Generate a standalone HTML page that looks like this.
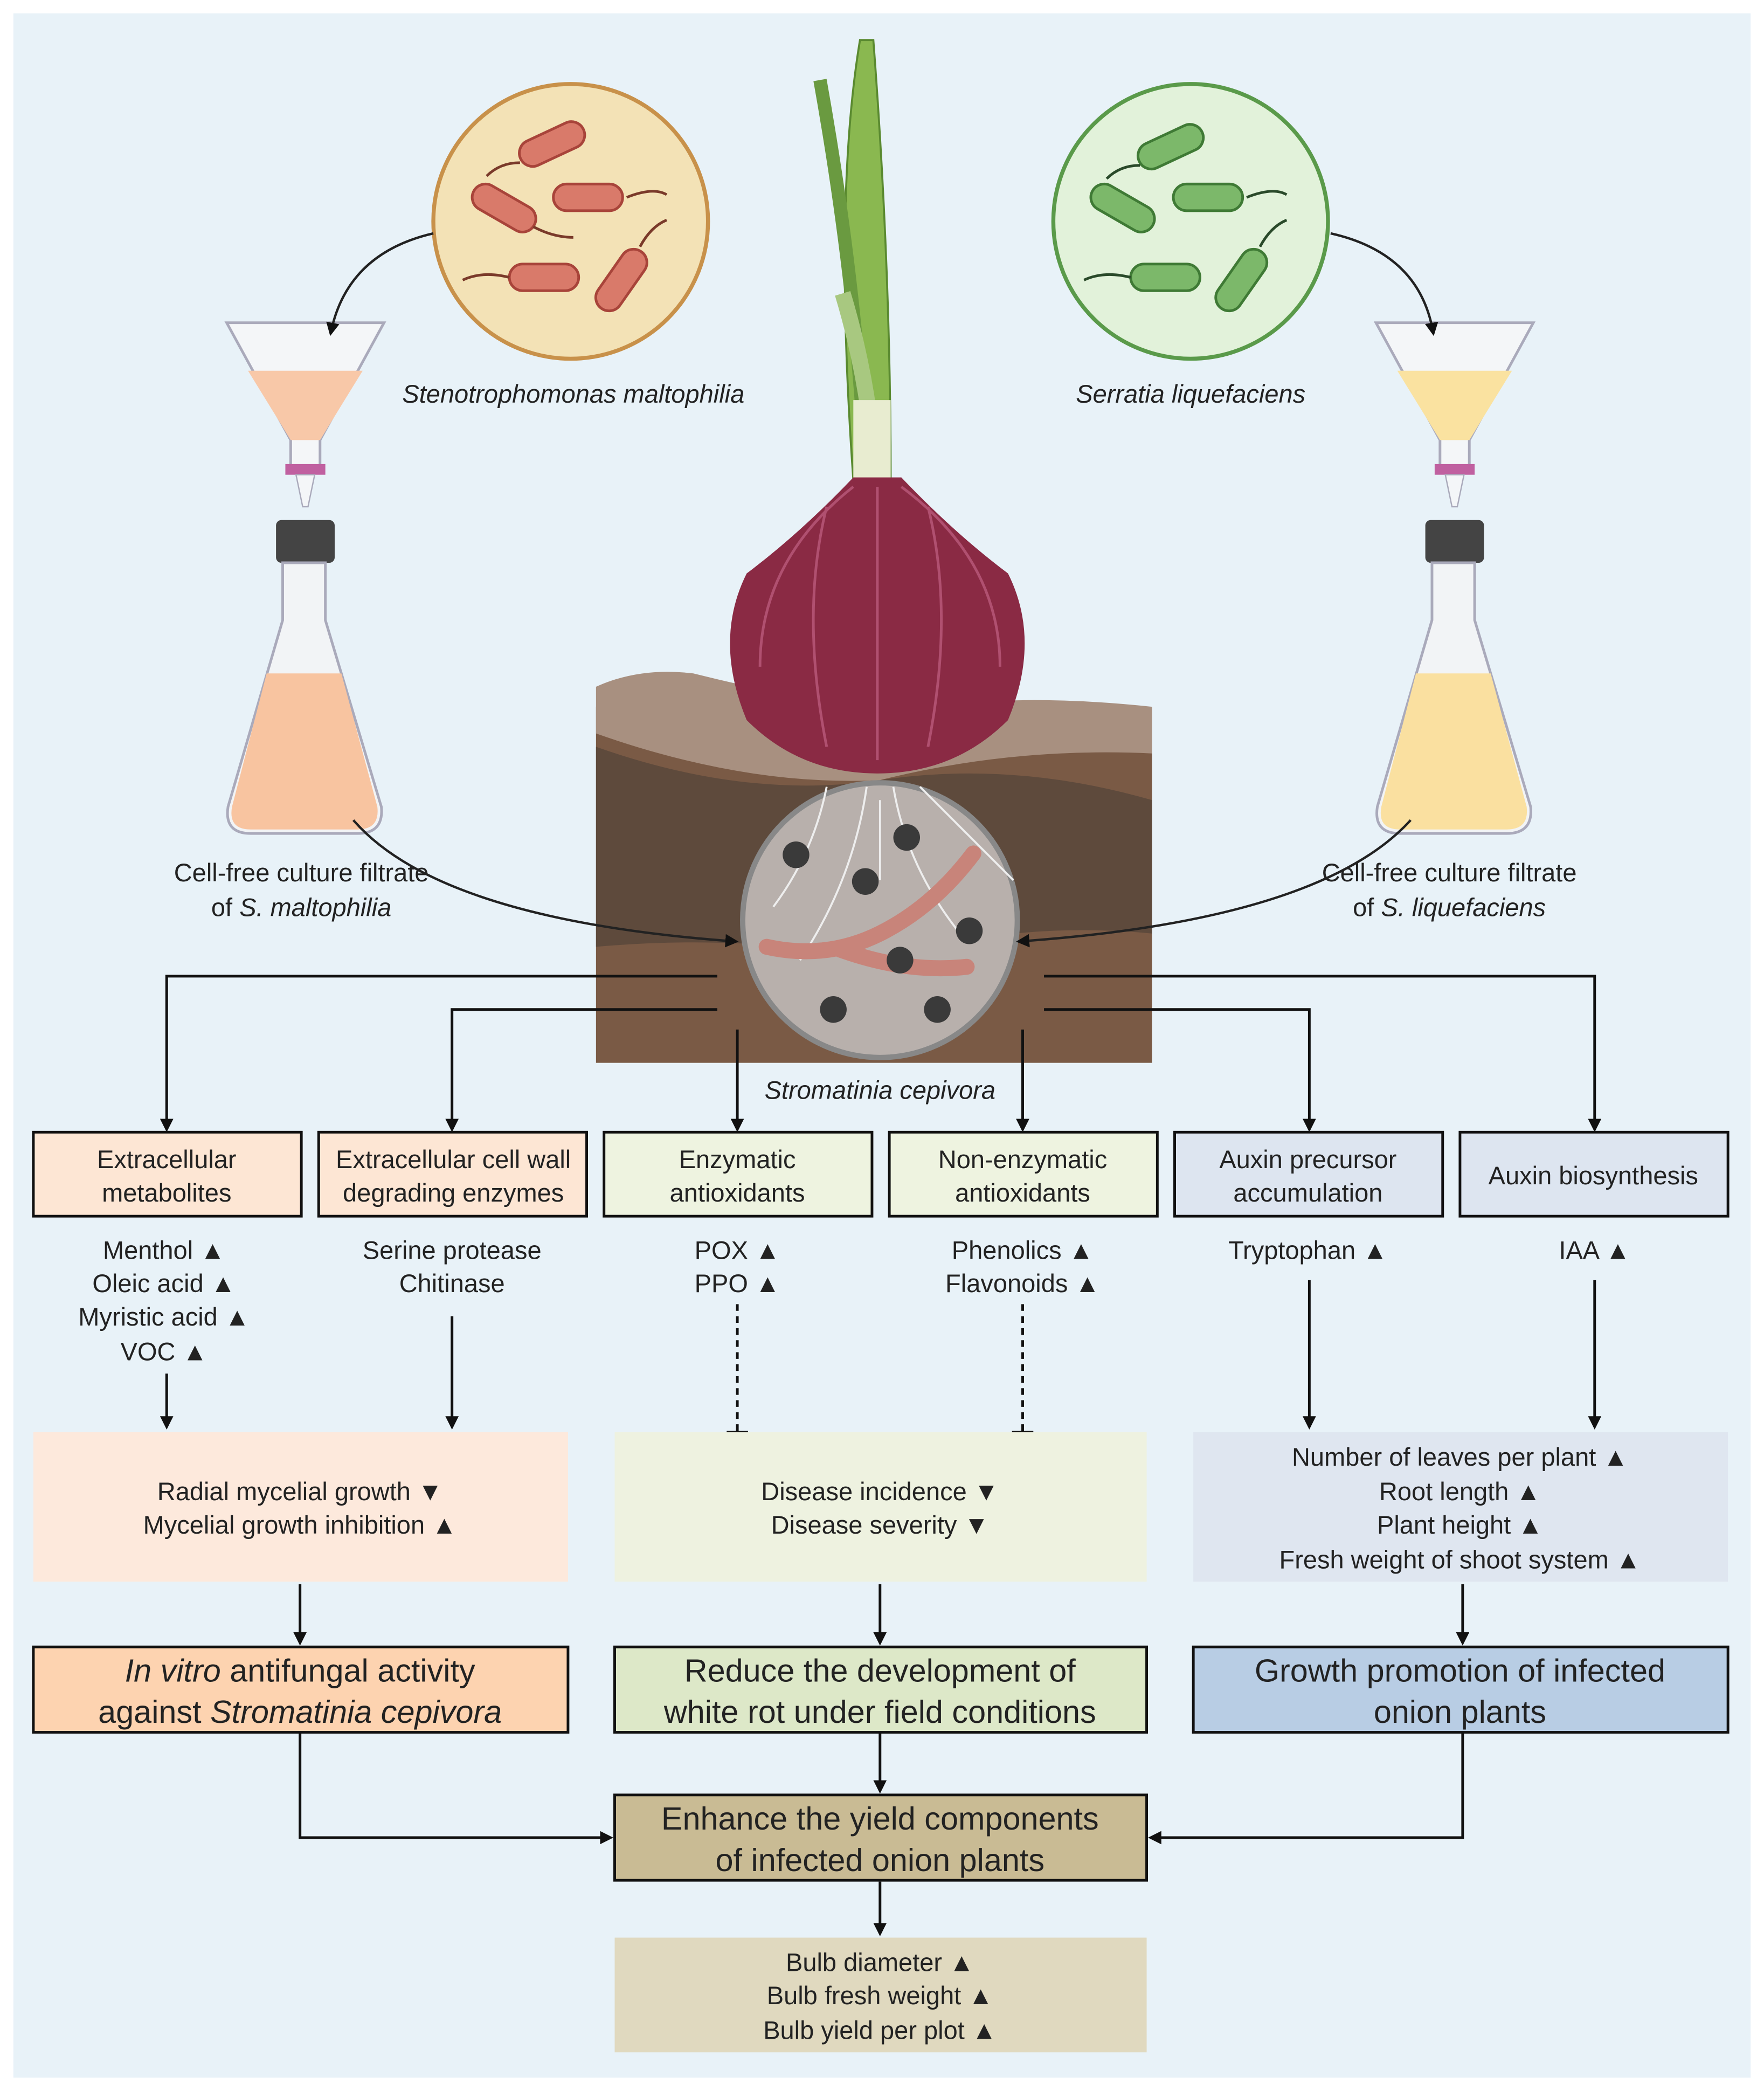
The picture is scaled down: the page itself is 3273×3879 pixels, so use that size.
<!DOCTYPE html>
<html><head><meta charset="utf-8"><style>
html,body{margin:0;padding:0;background:#fff;}
svg{display:block;}
text{font-family:"Liberation Sans",Arial,sans-serif;fill:#222;}
</style></head><body>
<svg width="3273" height="3879" viewBox="0 0 1323 1568" xmlns="http://www.w3.org/2000/svg">
<defs>
<marker id="ah" markerWidth="10" markerHeight="10" refX="8" refY="5" orient="auto" markerUnits="userSpaceOnUse">
<path d="M0,0 L10,5 L0,10 Z" fill="#111"/></marker>
</defs>
<rect x="0" y="0" width="1323" height="1568" fill="#fff"/>
<rect x="10" y="10" width="1303" height="1548" fill="#e8f2f8"/>

<!-- bacteria circles -->
<circle cx="428" cy="166" r="103" fill="#f3e2b6" stroke="#c8914a" stroke-width="3"/>
<g fill="#d97a6a" stroke="#a8443a" stroke-width="2">
<rect x="388" y="98" width="52" height="20" rx="10" transform="rotate(-25 414 108)"/>
<rect x="352" y="146" width="52" height="20" rx="10" transform="rotate(30 378 156)"/>
<rect x="415" y="138" width="52" height="20" rx="10"/>
<rect x="382" y="198" width="52" height="20" rx="10"/>
<rect x="440" y="200" width="52" height="20" rx="10" transform="rotate(-55 466 210)"/>
</g>
<g fill="none" stroke="#7a3a2a" stroke-width="2">
<path d="M390 122 q-15 0 -25 10"/><path d="M470 148 q20 -8 30 -2"/><path d="M382 208 q-20 -5 -35 2"/><path d="M480 185 q8 -15 20 -20"/><path d="M400 170 q15 8 30 8"/>
</g>
<circle cx="893" cy="166" r="103" fill="#e2f2da" stroke="#5a9a4a" stroke-width="3"/>
<g fill="#7cb86a" stroke="#3f7a35" stroke-width="2">
<rect x="852" y="100" width="52" height="20" rx="10" transform="rotate(-25 878 110)"/>
<rect x="816" y="146" width="52" height="20" rx="10" transform="rotate(30 842 156)"/>
<rect x="880" y="138" width="52" height="20" rx="10"/>
<rect x="848" y="198" width="52" height="20" rx="10"/>
<rect x="905" y="200" width="52" height="20" rx="10" transform="rotate(-55 931 210)"/>
</g>
<g fill="none" stroke="#2a4a2a" stroke-width="2">
<path d="M855 124 q-15 0 -25 10"/><path d="M935 148 q20 -8 30 -2"/><path d="M848 208 q-20 -5 -35 2"/><path d="M945 185 q8 -15 20 -20"/>
</g>
<text x="430" y="302" font-size="19" font-style="italic" text-anchor="middle">Stenotrophomonas  maltophilia</text>
<text x="893" y="302" font-size="19" font-style="italic" text-anchor="middle">Serratia liquefaciens</text>

<!-- left funnel & flask -->
<g>
<path d="M170 242 L288 242 L240 330 L240 350 L218 350 L218 330 Z" fill="#f4f6f8" stroke="#aab" stroke-width="2"/>
<path d="M186 278 L272 278 L240 330 L218 330 Z" fill="#f8c8a8"/>
<rect x="214" y="348" width="30" height="8" fill="#c060a0"/>
<path d="M222 356 L236 356 L231 380 L227 380 Z" fill="#f4f6f8" stroke="#aab"/>
<rect x="207" y="390" width="44" height="32" rx="4" fill="#444"/>
<path d="M212 422 L244 422 L244 465 L286 605 Q288 625 268 625 L188 625 Q168 625 171 605 L212 465 Z" fill="#f2f4f6" stroke="#aab" stroke-width="2"/>
<path d="M200 505 L256 505 L283 605 Q285 622 268 622 L188 622 Q171 622 174 605 Z" fill="#f8c4a0"/>
</g>
<g>
<path d="M1032 242 L1150 242 L1102 330 L1102 350 L1080 350 L1080 330 Z" fill="#f4f6f8" stroke="#aab" stroke-width="2"/>
<path d="M1048 278 L1134 278 L1102 330 L1080 330 Z" fill="#fae2a0"/>
<rect x="1076" y="348" width="30" height="8" fill="#c060a0"/>
<path d="M1084 356 L1098 356 L1093 380 L1089 380 Z" fill="#f4f6f8" stroke="#aab"/>
<rect x="1069" y="390" width="44" height="32" rx="4" fill="#444"/>
<path d="M1074 422 L1106 422 L1106 465 L1148 605 Q1150 625 1130 625 L1050 625 Q1030 625 1033 605 L1074 465 Z" fill="#f2f4f6" stroke="#aab" stroke-width="2"/>
<path d="M1062 505 L1118 505 L1145 605 Q1147 622 1130 622 L1050 622 Q1033 622 1036 605 Z" fill="#fae0a0"/>
</g>
<path d="M325 175 Q260 190 248 250" fill="none" stroke="#222" stroke-width="1.8" marker-end="url(#ah)"/>
<path d="M998 175 Q1065 190 1075 250" fill="none" stroke="#222" stroke-width="1.8" marker-end="url(#ah)"/>
<text x="226" y="661" font-size="19" text-anchor="middle">Cell-free  culture filtrate</text>
<text x="226" y="687" font-size="19" text-anchor="middle">of <tspan font-style="italic">S. maltophilia</tspan></text>
<text x="1087" y="661" font-size="19" text-anchor="middle">Cell-free  culture filtrate</text>
<text x="1087" y="687" font-size="19" text-anchor="middle">of <tspan font-style="italic">S. liquefaciens</tspan></text>

<!-- soil -->
<rect x="447" y="530" width="417" height="267" fill="#7a5a45"/>
<path d="M447 560 Q560 600 660 585 Q760 570 864 600 L864 700 Q760 690 660 720 Q560 700 447 710 Z" fill="#5e4a3c"/>
<path d="M447 515 Q480 500 520 505 Q580 520 640 530 L700 530 Q770 520 864 530 L864 565 Q760 560 660 585 Q560 590 447 550 Z" fill="#a89080"/>
<!-- onion -->
<path d="M645 30 Q625 150 640 360 L668 360 Q668 200 655 30 Z" fill="#8ab850" stroke="#5a8a30" stroke-width="1.5"/>
<path d="M615 60 Q640 200 648 330" fill="none" stroke="#6a9a40" stroke-width="10"/>
<path d="M632 220 Q650 280 655 340" fill="none" stroke="#a8c880" stroke-width="12"/>
<rect x="640" y="300" width="28" height="70" fill="#e8ecd0"/>
<path d="M640 358 Q600 400 560 430 Q535 480 560 540 Q600 580 658 580 Q716 580 756 540 Q781 480 756 430 Q716 400 676 358 Z" fill="#8a2a44"/>
<path d="M640 365 Q570 420 570 500 M676 365 Q750 420 750 500 M658 365 L658 570 M620 380 Q600 460 620 560 M696 380 Q716 460 696 560" fill="none" stroke="#b05070" stroke-width="2"/>
<!-- magnifier -->
<circle cx="660" cy="690" r="103" fill="#b8b0ac" stroke="#888" stroke-width="4"/>
<g fill="none" stroke="#eee" stroke-width="1.5">
<path d="M620 590 Q610 640 580 680"/><path d="M650 590 Q640 660 600 720"/><path d="M670 590 Q680 650 720 700"/><path d="M690 590 Q720 620 760 660"/><path d="M660 600 L660 660"/>
</g>
<path d="M575 710 Q620 720 660 700 Q700 680 730 640" fill="none" stroke="#c8847a" stroke-width="12" stroke-linecap="round"/>
<path d="M630 712 Q680 730 725 725" fill="none" stroke="#c8847a" stroke-width="12" stroke-linecap="round"/>
<g fill="#3a3a3a"><circle cx="597" cy="641" r="10"/><circle cx="649" cy="661" r="10"/><circle cx="680" cy="628" r="10"/><circle cx="727" cy="698" r="10"/><circle cx="675" cy="720" r="10"/><circle cx="625" cy="757" r="10"/><circle cx="703" cy="757" r="10"/></g>
<text x="660" y="824" font-size="19" font-style="italic" text-anchor="middle">Stromatinia cepivora</text>

<path d="M265 615 Q330 690 552 706" fill="none" stroke="#222" stroke-width="1.8" marker-end="url(#ah)"/>
<path d="M1058 615 Q990 690 764 706" fill="none" stroke="#222" stroke-width="1.8" marker-end="url(#ah)"/>

<!-- branch arrows -->
<g fill="none" stroke="#111" stroke-width="2" marker-end="url(#ah)">
<path d="M538 732 L125 732 L125 847"/>
<path d="M538 757 L339 757 L339 847"/>
<path d="M553 772 L553 847"/>
<path d="M767 772 L767 847"/>
<path d="M783 757 L982 757 L982 847"/>
<path d="M783 732 L1196 732 L1196 847"/>
</g>

<!-- row 1 boxes -->
<g stroke="#111" stroke-width="2">
<rect x="25" y="849" width="201" height="63" fill="#fde6d4"/>
<rect x="239" y="849" width="201" height="63" fill="#fde6d4"/>
<rect x="453" y="849" width="201" height="63" fill="#eef3e0"/>
<rect x="667" y="849" width="201" height="63" fill="#eef3e0"/>
<rect x="881" y="849" width="201" height="63" fill="#dde5f0"/>
<rect x="1095" y="849" width="201" height="63" fill="#dde5f0"/>
</g>
<g font-size="19" text-anchor="middle">
<text x="125" y="876">Extracellular</text><text x="125" y="901">metabolites</text>
<text x="340" y="876">Extracellular  cell wall</text><text x="340" y="901">degrading enzymes</text>
<text x="553" y="876">Enzymatic</text><text x="553" y="901">antioxidants</text>
<text x="767" y="876">Non-enzymatic</text><text x="767" y="901">antioxidants</text>
<text x="981" y="876">Auxin precursor</text><text x="981" y="901">accumulation</text>
<text x="1195" y="888">Auxin biosynthesis</text>
<text x="123" y="944">Menthol  ▲</text><text x="123" y="969">Oleic acid ▲</text><text x="123" y="994">Myristic acid ▲</text><text x="123" y="1020">VOC ▲</text>
<text x="339" y="944">Serine protease</text><text x="339" y="969">Chitinase</text>
<text x="553" y="944">POX ▲</text><text x="553" y="969">PPO ▲</text>
<text x="767" y="944">Phenolics ▲</text><text x="767" y="969">Flavonoids  ▲</text>
<text x="981" y="944">Tryptophan  ▲</text>
<text x="1196" y="944">IAA ▲</text>
</g>
<g fill="none" stroke="#111" stroke-width="2">
<path d="M125 1030 L125 1070" marker-end="url(#ah)"/>
<path d="M339 987 L339 1070" marker-end="url(#ah)"/>
<path d="M982 960 L982 1070" marker-end="url(#ah)"/>
<path d="M1196 960 L1196 1070" marker-end="url(#ah)"/>
<path d="M553 978 L553 1074 M767 978 L767 1074" stroke-dasharray="5 4"/>
<path d="M545 1074 L561 1074 M759 1074 L775 1074"/>
</g>

<!-- row 2 -->
<rect x="25" y="1074" width="401" height="112" fill="#fde9dc"/>
<rect x="461" y="1074" width="399" height="112" fill="#eef2e0"/>
<rect x="895" y="1074" width="401" height="112" fill="#dfe6f0"/>
<g font-size="19" text-anchor="middle">
<text x="225" y="1125">Radial mycelial growth ▼</text><text x="225" y="1150">Mycelial growth  inhibition ▲</text>
<text x="660" y="1125">Disease incidence ▼</text><text x="660" y="1150">Disease severity ▼</text>
<text x="1095" y="1099">Number  of leaves  per plant ▲</text><text x="1095" y="1125">Root length  ▲</text><text x="1095" y="1150">Plant height ▲</text><text x="1095" y="1176">Fresh weight  of shoot system  ▲</text>
</g>
<g fill="none" stroke="#111" stroke-width="2" marker-end="url(#ah)">
<path d="M225 1188 L225 1232"/><path d="M660 1188 L660 1232"/><path d="M1097 1188 L1097 1232"/>
</g>

<!-- row 3 -->
<g stroke="#111" stroke-width="2">
<rect x="25" y="1235" width="401" height="64" fill="#fdd3b0"/>
<rect x="461" y="1235" width="399" height="64" fill="#dde8c8"/>
<rect x="895" y="1235" width="401" height="64" fill="#b8cde4"/>
<rect x="461" y="1346" width="399" height="64" fill="#c9bb94"/>
</g>
<g font-size="24" text-anchor="middle">
<text x="225" y="1261"><tspan font-style="italic">In vitro</tspan> antifungal activity</text>
<text x="225" y="1292">against <tspan font-style="italic">Stromatinia cepivora</tspan></text>
<text x="660" y="1261">Reduce the development of</text>
<text x="660" y="1292">white rot under field conditions</text>
<text x="1095" y="1261">Growth promotion of infected</text>
<text x="1095" y="1292">onion plants</text>
<text x="660" y="1372">Enhance the yield components</text>
<text x="660" y="1403">of infected onion plants</text>
</g>
<g fill="none" stroke="#111" stroke-width="2" marker-end="url(#ah)">
<path d="M225 1300 L225 1378 L458 1378"/>
<path d="M660 1300 L660 1343"/>
<path d="M1097 1300 L1097 1378 L863 1378"/>
<path d="M660 1411 L660 1450"/>
</g>
<rect x="461" y="1453" width="399" height="86" fill="#e0d9bf"/>
<g font-size="19" text-anchor="middle">
<text x="660" y="1478">Bulb diameter ▲</text><text x="660" y="1503">Bulb fresh weight ▲</text><text x="660" y="1529">Bulb yield per plot ▲</text>
</g>
</svg>
</body></html>
